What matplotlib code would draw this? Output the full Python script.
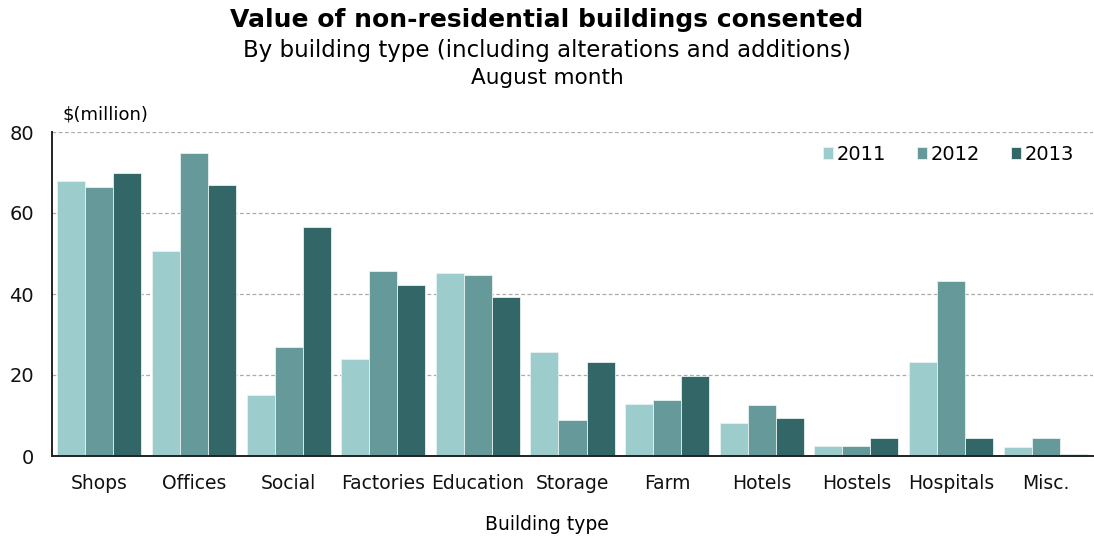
import numpy as np
import matplotlib
matplotlib.use('Agg')
import matplotlib.pyplot as plt

plt.rcParams['font.family'] = ['DejaVu Sans']

# --- data ---
categories = ['Shops', 'Offices', 'Social', 'Factories', 'Education', 'Storage',
              'Farm', 'Hotels', 'Hostels', 'Hospitals', 'Misc.']
years = ['2011', '2012', '2013']
v2011 = [67.9, 50.5, 15.0, 23.9, 45.2, 25.8, 12.9, 8.1, 2.5, 23.3, 2.1]
v2012 = [66.4, 74.8, 26.9, 45.6, 44.7, 9.0, 13.9, 12.5, 2.5, 43.1, 4.5]
v2013 = [69.9, 66.9, 56.5, 42.1, 39.2, 23.3, 19.8, 9.5, 4.5, 4.5, 0.6]
series = [v2011, v2012, v2013]
colors = ['#9CCCCC', '#669999', '#336666']

fig = plt.figure(figsize=(10.94, 5.42), dpi=100)
ax = fig.add_axes([52 / 1094, 1 - 456 / 542, 1041 / 1094, 324 / 542])

x = np.arange(len(categories))
w = 0.296
for i, (vals, col, yr) in enumerate(zip(series, colors, years)):
    ax.bar(x + (i - 1) * w, vals, width=w, color=col, edgecolor='#e8f2f2',
           linewidth=0.6, label=yr, zorder=3)

ax.set_xlim(-0.5, len(categories) - 0.5)
ax.set_ylim(0, 80)
ax.set_yticks([0, 20, 40, 60, 80])
ax.set_xticks(x)
ax.set_xticklabels(categories, fontsize=13.5, color='#111111')
ax.tick_params(axis='y', labelsize=14, length=0, pad=13, colors='#111111')
ax.tick_params(axis='x', length=0, pad=13)
ax.yaxis.grid(True, linestyle=(0, (3, 2)), color='#aaaaaa', linewidth=0.9, zorder=0)

for s in ['top', 'right']:
    ax.spines[s].set_visible(False)
ax.spines['left'].set_color('#222222')
ax.spines['left'].set_linewidth(1.4)
ax.spines['bottom'].set_color('#222222')
ax.spines['bottom'].set_linewidth(1.4)
ax.spines['bottom'].set_zorder(4)

ax.legend(loc='upper right', bbox_to_anchor=(0.989, 0.985), borderaxespad=0,
          ncol=3, frameon=False, fontsize=14, handlelength=0.55, handleheight=0.55,
          handletextpad=0.15, columnspacing=1.6)

fig.text(0.5, 1 - 20 / 542, 'Value of non-residential buildings consented',
         ha='center', va='center', fontsize=18, fontweight='bold')
fig.text(0.5, 1 - 50 / 542, 'By building type (including alterations and additions)',
         ha='center', va='center', fontsize=16.5)
fig.text(0.5, 1 - 78 / 542, 'August month', ha='center', va='center', fontsize=15.5)
fig.text(62 / 1094, 1 - 115 / 542, '$(million)', ha='left', va='center', fontsize=13)
fig.text(0.5, 1 - 525 / 542, 'Building type', ha='center', va='center', fontsize=13.5)

fig.savefig('out.png', dpi=100)
